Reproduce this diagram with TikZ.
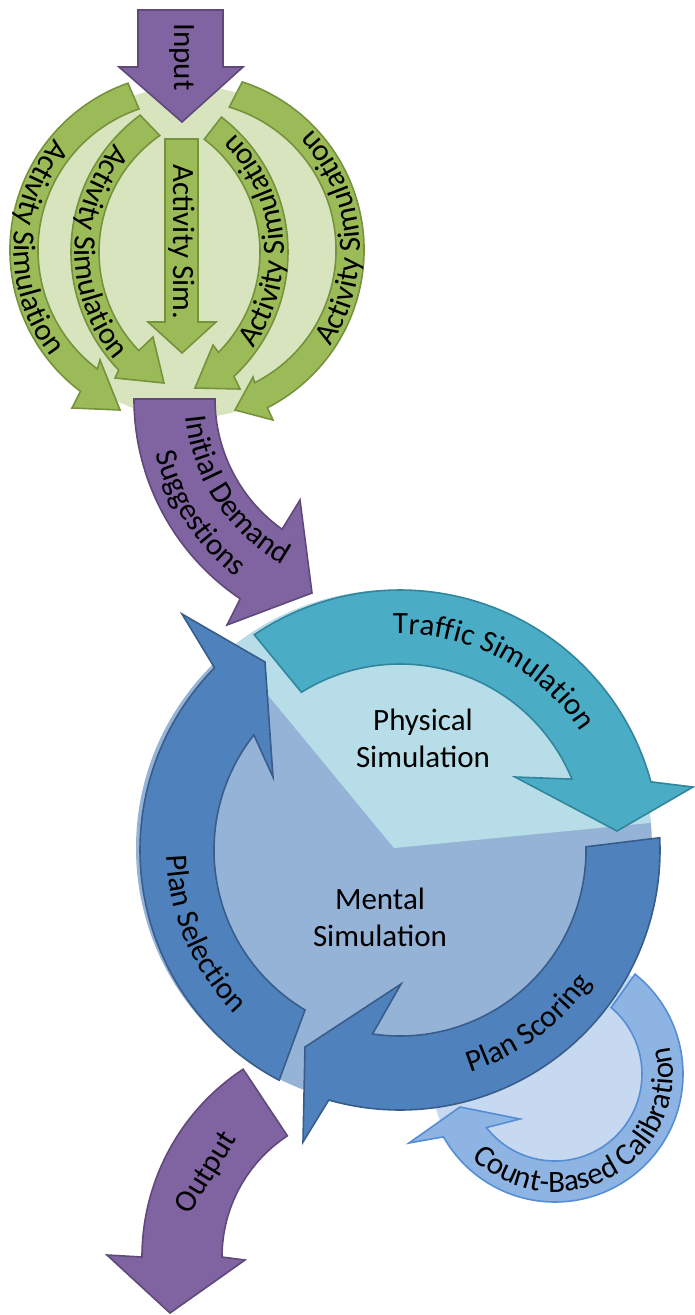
\documentclass[tikz,border=0pt]{standalone}
\usepackage{fontspec}
\setmainfont{Carlito}
\usetikzlibrary{decorations.text}

\definecolor{leafbg}{HTML}{D7E4BD}
\definecolor{leaf}{HTML}{9BBB59}
\definecolor{leafedge}{HTML}{76923C}
\definecolor{plum}{HTML}{8064A2}
\definecolor{plumedge}{HTML}{5F497A}
\definecolor{traffic}{HTML}{4BACC6}
\definecolor{trafficedge}{HTML}{31859C}
\definecolor{loop}{HTML}{4F81BD}
\definecolor{loopedge}{HTML}{385D8A}
\definecolor{mentalbg}{HTML}{95B3D7}
\definecolor{physbg}{HTML}{B7DEE8}
\definecolor{calibbg}{HTML}{C6D9F1}
\definecolor{calib}{HTML}{8EB4E3}
\definecolor{calibedge}{HTML}{558ED5}

\newcommand\lbl{\fontsize{31}{37}\selectfont}

\tikzset{
  shapeline/.style={line width=1.6pt, line join=miter},
  greenarrow/.style={shapeline, fill=leaf, draw=leafedge},
  plumarrow/.style={shapeline, fill=plum, draw=plumedge},
  trafficarrow/.style={shapeline, fill=traffic, draw=trafficedge},
  looparrow/.style={shapeline, fill=loop, draw=loopedge},
  calibarrow/.style={shapeline, fill=calib, draw=calibedge},
  arclabel/.style={decorate, decoration={text along path, text align=center, text={|\lbl|#1}}},
  plainlabel/.style={font=\lbl, inner sep=0pt}
}

\begin{document}
\begin{tikzpicture}[x=1pt, y=-1pt]
\useasboundingbox (0,0) rectangle (694,1315);

% centres of the round pieces
\coordinate (gc) at (187,250);   % outer green ring
\coordinate (gl) at (241,252);   % inner left green arc
\coordinate (gr) at (118,252);   % inner right green arc
\coordinate (dc) at (375,399);   % demand arrow
\coordinate (rc) at (400,850);   % main loop
\coordinate (pc) at (394,848);   % loop disc
\coordinate (kc) at (555,1074);  % calibration loop
\coordinate (oc) at (367,1257);  % output arrow

% activity part
\fill[leafbg] (190,252) circle[radius=166];

\draw[greenarrow] ([shift={(gc)}]250.5:177) arc[start angle=250.5, end angle=127, radius=177]
  -- (72,408) -- (120,410) -- (100,360)
  -- ([shift={(gc)}]127:149) arc[start angle=127, end angle=251.2, radius=149] -- cycle;
\draw[greenarrow] ([shift={(gc)}]288.2:177) arc[start angle=288.2, end angle=423, radius=177]
  -- (273,420) -- (235,410) -- (253,377)
  -- ([shift={(gc)}]423:149) arc[start angle=423, end angle=286.5, radius=149] -- cycle;
\draw[greenarrow] ([shift={(gl)}]233.6:170) arc[start angle=233.6, end angle=136, radius=170]
  -- (115,378) -- (164,383) -- (153,337)
  -- ([shift={(gl)}]136:142) arc[start angle=136, end angle=235.1, radius=142] -- cycle;
\draw[greenarrow] ([shift={(gr)}]307.5:170) arc[start angle=307.5, end angle=407, radius=170]
  -- (240,389) -- (195,388) -- (213,345)
  -- ([shift={(gr)}]405:142) arc[start angle=405, end angle=307.4, radius=142] -- cycle;
\draw[greenarrow] (165,139) -- (198,139) -- (198,322) -- (216,322) -- (182,353)
  -- (148,322) -- (165,322) -- cycle;

% input
\draw[plumarrow] (138,10) -- (223,10) -- (223,67) -- (243,67) -- (182,122)
  -- (119,67) -- (138,67) -- cycle;

% demand
\draw[plumarrow] ([shift={(dc)}]180:241) arc[start angle=180, end angle=124, radius=241]
  -- (227,625) -- (312,593) -- (300,500)
  -- ([shift={(dc)}]125.5:160) arc[start angle=125.5, end angle=180, radius=160] -- cycle;

% loop discs
\fill[calibbg] (kc) circle[radius=124];
\fill[mentalbg] (pc) circle[radius=258];
\fill[physbg] (pc) -- ([shift={(pc)}]230.5:258) arc[start angle=230.5, end angle=354.4, radius=258] -- cycle;

% loop arrows
\draw[trafficarrow] ([shift={(rc)}]235.9:260) arc[start angle=235.9, end angle=344.8, radius=260]
  -- (693,787) -- (617,831) -- (515,777)
  -- ([shift={(rc)}]337.6:186) arc[start angle=337.6, end angle=238, radius=186] -- cycle;
\draw[looparrow] ([shift={(rc)}]357.3:260) arc[start angle=357.3, end angle=465.9, radius=260]
  -- (303,1142) -- (305,1047) -- (401,984)
  -- ([shift={(rc)}]458.5:186) arc[start angle=458.5, end angle=359, radius=186] -- cycle;
\draw[looparrow] ([shift={(rc)}]117.7:260) arc[start angle=117.7, end angle=224.5, radius=260]
  -- (182,614) -- (265,662) -- (273,777)
  -- ([shift={(rc)}]218.2:186) arc[start angle=218.2, end angle=120.7, radius=186] -- cycle;
\draw[calibarrow] ([shift={(kc)}]308.7:128) arc[start angle=308.7, end angle=510.6, radius=128]
  -- (409,1143) -- (460,1107) -- (520,1119)
  -- ([shift={(kc)}]502:87) arc[start angle=502, end angle=310.2, radius=87] -- cycle;

% output
\draw[plumarrow] ([shift={(oc)}]236.6:225) arc[start angle=236.6, end angle=180, radius=225]
  -- (107,1255) -- (170,1313) -- (245,1260)
  -- ([shift={(oc)}]180:145) arc[start angle=180, end angle=236.7, radius=145] -- cycle;

% labels on the arcs
\path[arclabel={Activity Simulation}] ([shift={(gc)}]250:173) arc[start angle=250, end angle=112, radius=173];
\path[arclabel={Activity Simulation}] ([shift={(gl)}]235:166) arc[start angle=235, end angle=125, radius=166];
\path[arclabel={Activity Simulation}] ([shift={(gr)}]45:166) arc[start angle=45, end angle=-55, radius=166];
\path[arclabel={Activity Simulation}] ([shift={(gc)}]40:173) arc[start angle=40, end angle=-50, radius=173];
\path[arclabel={Initial Demand}] ([shift={(dc)}]180:190) arc[start angle=180, end angle=114, radius=190];
\path[arclabel={Suggestions}] ([shift={(dc)}]180:226) arc[start angle=180, end angle=114, radius=226];
\path[arclabel={Traffic Simulation}] ([shift={(rc)}]240:216) arc[start angle=240, end angle=355, radius=216];
\path[arclabel={Plan Scoring}] ([shift={(rc)}]90:233) arc[start angle=90, end angle=17, radius=233];
\path[arclabel={Plan Selection}] ([shift={(rc)}]195:233) arc[start angle=195, end angle=119, radius=233];
\path[arclabel={Count-Based Calibration}] ([shift={(kc)}]142:118) arc[start angle=142, end angle=-21, radius=118];

% plain labels
\node[plainlabel, rotate=-90] (input) at (182,57) {Input};
\node[plainlabel, rotate=-90] (actsim) at (182,242) {Activity Sim.};
\node[plainlabel, align=center] (physical) at (423,738) {Physical\\Simulation};
\node[plainlabel, align=center] (mental) at (380,917) {Mental\\Simulation};
\node[plainlabel, rotate=58] (output) at (207,1173) {Output};
\end{tikzpicture}
\end{document}
